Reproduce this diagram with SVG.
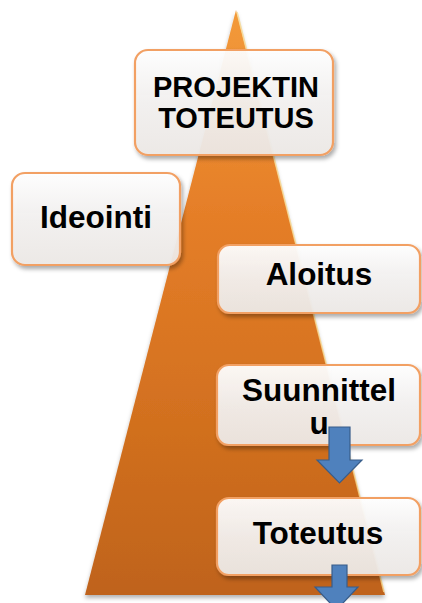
<svg xmlns="http://www.w3.org/2000/svg" width="422" height="603" viewBox="0 0 422 603">
  <style>
    .box { fill: url(#boxFill); stroke: #F2A064; stroke-width: 2.2; filter: url(#boxShadow); }
    .label { font-family: "Liberation Sans", Arial, sans-serif; font-weight: bold; fill: #000; text-anchor: middle; }
    .arrow { fill: #4F81BD; stroke: #385D8A; stroke-width: 1.2; }
  </style>
  <defs>
    <linearGradient id="pyramidFill" x1="0" y1="0" x2="0" y2="1">
      <stop offset="0" stop-color="#F39A3A"/>
      <stop offset="0.35" stop-color="#E57E28"/>
      <stop offset="0.7" stop-color="#D2701F"/>
      <stop offset="1" stop-color="#BF631C"/>
    </linearGradient>
    <linearGradient id="boxFill" x1="0" y1="0" x2="0" y2="1">
      <stop offset="0" stop-color="#FFFFFF" stop-opacity="0.94"/>
      <stop offset="0.5" stop-color="#F4F2F1" stop-opacity="0.93"/>
      <stop offset="1" stop-color="#EEEAE7" stop-opacity="0.93"/>
    </linearGradient>
    <filter id="boxShadow" x="-10%" y="-15%" width="125%" height="140%">
      <feDropShadow dx="2" dy="3" stdDeviation="2.2" flood-color="#000" flood-opacity="0.35"/>
    </filter>
    <filter id="baseShadow" x="-10%" y="-10%" width="120%" height="120%">
      <feDropShadow dx="0" dy="3" stdDeviation="2" flood-color="#000" flood-opacity="0.3"/>
    </filter>
  </defs>

  <!-- pyramid background -->
  <g id="pyramid">
    <polygon points="236,10 385,595 85,595" fill="url(#pyramidFill)" filter="url(#baseShadow)"/>
    <!-- light edge along the right side -->
    <polyline points="237,12 384,592" fill="none" stroke="#F8D890" stroke-width="1.6" opacity="0.8"/>
  </g>

  <g id="node-projektin">
    <rect class="box" x="135" y="50" width="198" height="105" rx="13"/>
    <text class="label" x="236" y="97" font-size="29">PROJEKTIN</text>
    <text class="label" x="236" y="128" font-size="29">TOTEUTUS</text>
  </g>

  <g id="node-ideointi">
    <rect class="box" x="12" y="173" width="168" height="92" rx="13"/>
    <text class="label" x="96" y="228" font-size="31.5">Ideointi</text>
  </g>

  <g id="node-aloitus">
    <rect class="box" x="218" y="245" width="202" height="68" rx="12"/>
    <text class="label" x="319" y="285" font-size="31.5">Aloitus</text>
  </g>

  <g id="node-suunnittelu">
    <rect class="box" x="217" y="365" width="203" height="80" rx="12"/>
    <text class="label" x="319" y="401" font-size="31.5">Suunnittel</text>
    <text class="label" x="319" y="434" font-size="31.5">u</text>
  </g>

  <g id="node-toteutus">
    <rect class="box" x="217" y="498" width="203" height="77" rx="12"/>
    <text class="label" x="318" y="544" font-size="31.5">Toteutus</text>
  </g>

  <!-- connectors: block arrows pointing down out of the boxes -->
  <g id="connectors">
    <path class="arrow" d="M329,427 H350 V460 H362 L339.5,483 L317,460 H329 Z"/>
    <path class="arrow" d="M332,565 H347 V587 H358 L336.5,610 L315,587 H332 Z"/>
  </g>
</svg>
